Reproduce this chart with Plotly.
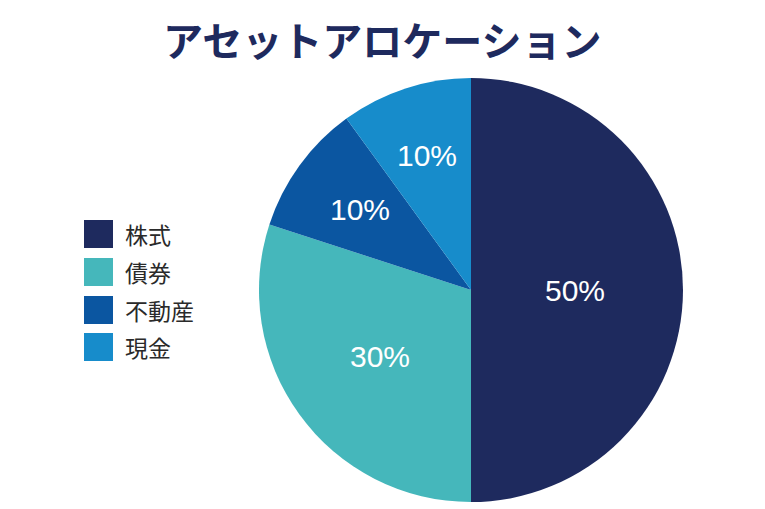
import math
import plotly.graph_objects as go

# asset allocation data
labels = ["株式", "債券", "不動産", "現金"]
values = [50, 30, 10, 10]
colors = ["#1e2a5e", "#45b7bb", "#0b56a1", "#178ccb"]

W, H = 765, 509
# the page body adds 8px, so pixel positions below are already shifted by it
cx, cy, r = 463, 282, 212
# how far out (fraction of radius) each percent label sits
label_r = [0.49, 0.53, 0.65, 0.665]

fig = go.Figure()
fig.add_trace(go.Pie(
    labels=labels,
    values=values,
    sort=False,
    direction="clockwise",
    rotation=0,
    marker=dict(colors=colors, line=dict(width=0)),
    textinfo="none",
    domain=dict(x=[(cx - r) / W, (cx + r) / W], y=[1 - (cy + r) / H, 1 - (cy - r) / H]),
    showlegend=False,
    hoverinfo="label+percent",
))

# percent labels placed at the middle angle of each slice
total = sum(values)
acc = 0
for v, f in zip(values, label_r):
    mid = (acc + v / 2) / total * 2 * math.pi
    acc += v
    px = cx + r * f * math.sin(mid)
    py = cy - r * f * math.cos(mid)
    fig.add_annotation(x=px / W, y=1 - py / H, xref="paper", yref="paper",
                       text="%d%%" % round(v / total * 100), showarrow=False,
                       xanchor="center", yanchor="middle",
                       font=dict(size=30, color="white", family="Liberation Sans, Arial, sans-serif"))

# hand-drawn legend: bigger squares than plotly's own
leg_y = [226, 264, 302, 339]
for lab, col, yy in zip(labels, colors, leg_y):
    fig.add_shape(type="rect", xref="paper", yref="paper",
                  x0=76 / W, x1=105 / W, y0=1 - (yy + 14) / H, y1=1 - (yy - 14) / H,
                  fillcolor=col, line=dict(width=0))
    fig.add_annotation(x=115 / W, y=1 - yy / H, xref="paper", yref="paper",
                       text=lab, showarrow=False, xanchor="left", yanchor="middle",
                       font=dict(size=23, color="#2a2a2a", family="Noto Sans CJK JP"))

# title as a top-anchored annotation so its box stays inside the page
fig.add_annotation(x=374 / W, y=1, xref="paper", yref="paper",
                   text="<b>アセットアロケーション</b>", showarrow=False,
                   xanchor="center", yanchor="top",
                   font=dict(size=40, color="#1e2a5e", family="Noto Sans CJK JP"))

fig.update_layout(
    width=W, height=H,
    margin=dict(l=0, r=0, t=0, b=0),
    paper_bgcolor="white",
    plot_bgcolor="white",
)

fig.write_html("out.html")
